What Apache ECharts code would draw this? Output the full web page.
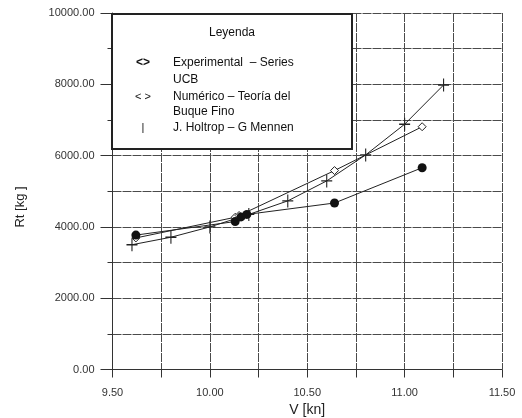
<!DOCTYPE html>
<html>
<head>
<meta charset="utf-8">
<script src="https://cdn.jsdelivr.net/npm/echarts@6/dist/echarts.min.js"></script>
<style>html,body{margin:0;padding:0;background:#fff}#c{width:522px;height:418px}</style>
</head>
<body>
<div id="c"></div>
<script>
// Data
const experimentalV  = [9.62, 10.13, 10.16, 10.19, 10.64, 11.09];
const experimentalRt = [3770, 4150, 4280, 4350, 4670, 5660];
const numericoV  = [9.62, 10.13, 10.15, 10.64, 11.09];
const numericoRt = [3690, 4270, 4320, 5580, 6810];
const holtropV  = [9.60, 9.80, 10.00, 10.20, 10.40, 10.60, 10.80, 11.00, 11.20];
const holtropRt = [3500, 3710, 4000, 4350, 4730, 5290, 6020, 6880, 7980];
const xAxisName = 'V [kn]';
const yAxisName = 'Rt [kg ]';
const legendTitle = 'Leyenda';
const legendLines = [
  ['<>', 'Experimental  – Series'], ['', 'UCB'],
  ['< >', 'Numérico – Teoría del'], ['', 'Buque Fino'],
  ['|', 'J. Holtrop – G Mennen']
];

const zip = (a, b) => a.map((x, i) => [x, b[i]]);
const font = 'Liberation Sans, Arial, sans-serif';
const gridLine = { show: true, lineStyle: { color: '#4a4a4a', width: 1, type: [9, 1] } };

const chart = echarts.init(document.getElementById('c'), null, { renderer: 'canvas' });

const legendTexts = [];
const ys = [63, 80, 97, 112, 128];
legendLines.forEach((l, i) => {
  if (l[0]) legendTexts.push({ type: 'text', x: 143, y: ys[i], style: { text: l[0], font: (i === 0 ? 'bold 12px ' : '11px ') + font, fill: '#111', align: 'center', verticalAlign: 'middle' } });
  legendTexts.push({ type: 'text', x: 173, y: ys[i], style: { text: l[1], font: '12px ' + font, fill: '#111', verticalAlign: 'middle' } });
});

chart.setOption({
  animation: false,
  backgroundColor: '#fff',
  grid: { left: 112.5, right: 20, top: 13, bottom: 48.5, show: false, containLabel: false, outerBoundsMode: 'none' },
  xAxis: {
    type: 'value', min: 9.5, max: 11.5, interval: 0.5,
    name: xAxisName, nameLocation: 'middle', nameGap: 31,
    nameTextStyle: { fontFamily: font, fontSize: 14, color: '#222' },
    axisLine: { show: true, onZero: false, lineStyle: { color: '#333', width: 1 } },
    axisTick: { show: true, length: 8, lineStyle: { color: '#333' } },
    minorTick: { show: true, splitNumber: 2, length: 8, lineStyle: { color: '#333' } },
    splitLine: gridLine,
    minorSplitLine: gridLine,
    axisLabel: { formatter: v => v.toFixed(2), fontFamily: font, fontSize: 11, color: '#333', margin: 18 }
  },
  yAxis: {
    type: 'value', min: 0, max: 10000, interval: 2000,
    axisLine: { show: true, lineStyle: { color: '#333', width: 1 } },
    axisTick: { show: true, length: 12, lineStyle: { color: '#333' } },
    minorTick: { show: true, splitNumber: 2, length: 5, lineStyle: { color: '#333' } },
    splitLine: gridLine,
    minorSplitLine: gridLine,
    axisLabel: { formatter: v => v.toFixed(2), fontFamily: font, fontSize: 11, color: '#333', margin: 18 }
  },
  series: [
    {
      name: 'Holtrop', type: 'line', data: zip(holtropV, holtropRt),
      symbol: 'path://M0,4.5H10V5.5H0Z M4.5,0H5.5V10H4.5Z', symbolSize: [11, 13],
      itemStyle: { color: '#222' }, lineStyle: { color: '#222', width: 1 }, z: 3
    },
    {
      name: 'Numérico', type: 'line', data: zip(numericoV, numericoRt),
      symbol: 'diamond', symbolSize: 8,
      itemStyle: { color: '#fff', borderColor: '#222', borderWidth: 1 }, lineStyle: { color: '#222', width: 1 }, z: 4
    },
    {
      name: 'Experimental', type: 'line', data: zip(experimentalV, experimentalRt),
      symbol: 'circle', symbolSize: 9,
      itemStyle: { color: '#111' }, lineStyle: { color: '#222', width: 1 }, z: 5
    }
  ],
  graphic: [
    { type: 'text', x: 20, y: 207, rotation: Math.PI / 2, style: { text: yAxisName, font: '13px ' + font, fill: '#222', align: 'center', verticalAlign: 'middle' } },
    { type: 'rect', shape: { x: 112, y: 14, width: 240, height: 135 }, style: { fill: '#fff', stroke: '#222', lineWidth: 2 }, z: 100 },
    { type: 'text', x: 232, y: 33, style: { text: legendTitle, font: '12px ' + font, fill: '#111', align: 'center', verticalAlign: 'middle' }, z: 101 },
    ...legendTexts.map(t => Object.assign(t, { z: 101 }))
  ]
});
</script>
</body>
</html>
